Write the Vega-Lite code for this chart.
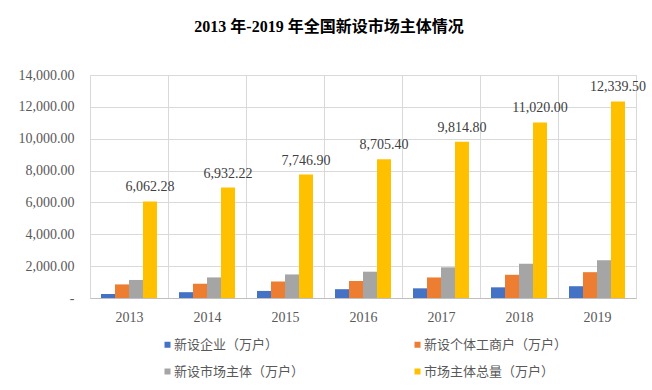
{
  "$schema": "https://vega.github.io/schema/vega-lite/v6.json",
  "width": 546,
  "height": 223,
  "autosize": {"type": "none"},
  "padding": {"left": 90, "top": 75, "right": 16, "bottom": 92},
  "background": "white",
  "title": {
    "text": "2013 年-2019 年全国新设市场主体情况",
    "font": "Liberation Serif, Noto Sans CJK SC",
    "fontSize": 16,
    "fontWeight": "bold",
    "color": "#000000",
    "anchor": "middle",
    "dx": -34,
    "offset": 33
  },
  "data": {
    "values": [
      {"year": "2013", "series": "新设企业（万户）", "value": 250.3},
      {"year": "2013", "series": "新设个体工商户（万户）", "value": 853.0},
      {"year": "2013", "series": "新设市场主体（万户）", "value": 1132.5},
      {"year": "2013", "series": "市场主体总量（万户）", "value": 6062.28},
      {"year": "2014", "series": "新设企业（万户）", "value": 365.1},
      {"year": "2014", "series": "新设个体工商户（万户）", "value": 896.5},
      {"year": "2014", "series": "新设市场主体（万户）", "value": 1292.5},
      {"year": "2014", "series": "市场主体总量（万户）", "value": 6932.22},
      {"year": "2015", "series": "新设企业（万户）", "value": 443.9},
      {"year": "2015", "series": "新设个体工商户（万户）", "value": 1035.9},
      {"year": "2015", "series": "新设市场主体（万户）", "value": 1479.8},
      {"year": "2015", "series": "市场主体总量（万户）", "value": 7746.9},
      {"year": "2016", "series": "新设企业（万户）", "value": 552.8},
      {"year": "2016", "series": "新设个体工商户（万户）", "value": 1068.9},
      {"year": "2016", "series": "新设市场主体（万户）", "value": 1651.3},
      {"year": "2016", "series": "市场主体总量（万户）", "value": 8705.4},
      {"year": "2017", "series": "新设企业（万户）", "value": 607.4},
      {"year": "2017", "series": "新设个体工商户（万户）", "value": 1289.8},
      {"year": "2017", "series": "新设市场主体（万户）", "value": 1924.9},
      {"year": "2017", "series": "市场主体总量（万户）", "value": 9814.8},
      {"year": "2018", "series": "新设企业（万户）", "value": 670.0},
      {"year": "2018", "series": "新设个体工商户（万户）", "value": 1456.4},
      {"year": "2018", "series": "新设市场主体（万户）", "value": 2149.6},
      {"year": "2018", "series": "市场主体总量（万户）", "value": 11020.0},
      {"year": "2019", "series": "新设企业（万户）", "value": 739.1},
      {"year": "2019", "series": "新设个体工商户（万户）", "value": 1621.8},
      {"year": "2019", "series": "新设市场主体（万户）", "value": 2377.4},
      {"year": "2019", "series": "市场主体总量（万户）", "value": 12339.5}
    ]
  },
  "encoding": {
    "x": {
      "field": "year",
      "type": "nominal",
      "scale": {"paddingInner": 0, "paddingOuter": 0},
      "axis": {
        "title": null,
        "labelAngle": 0,
        "tickBand": "extent",
        "ticks": false,
        "grid": true,
        "gridColor": "#d9d9d9",
        "domainColor": "#bfbfbf",
        "labelFont": "Liberation Serif",
        "labelFontSize": 14,
        "labelColor": "#595959",
        "labelPadding": 12
      }
    },
    "xOffset": {
      "field": "series",
      "type": "nominal",
      "sort": ["新设企业（万户）", "新设个体工商户（万户）", "新设市场主体（万户）", "市场主体总量（万户）"],
      "scale": {"paddingInner": 0, "paddingOuter": 0.786}
    },
    "y": {
      "field": "value",
      "type": "quantitative",
      "scale": {"domain": [0, 14000], "nice": false},
      "axis": {
        "title": null,
        "values": [0, 2000, 4000, 6000, 8000, 10000, 12000, 14000],
        "labelExpr": "datum.value === 0 ? '-\u00a0\u00a0\u00a0' : format(datum.value, ',.2f')",
        "ticks": false,
        "domain": false,
        "gridColor": "#d9d9d9",
        "labelFont": "Liberation Serif",
        "labelFontSize": 14,
        "labelColor": "#595959",
        "labelPadding": 16
      }
    }
  },
  "layer": [
    {
      "mark": {"type": "bar"},
      "encoding": {
        "color": {
          "field": "series",
          "type": "nominal",
          "sort": ["新设企业（万户）", "新设个体工商户（万户）", "新设市场主体（万户）", "市场主体总量（万户）"],
          "scale": {
            "domain": ["新设企业（万户）", "新设个体工商户（万户）", "新设市场主体（万户）", "市场主体总量（万户）"],
            "range": ["#4472C4", "#ED7D31", "#A5A5A5", "#FFC000"]
          },
          "legend": {
            "title": null,
            "orient": "none",
            "legendX": 71,
            "legendY": 263,
            "direction": "horizontal",
            "columns": 2,
            "columnPadding": 106,
            "rowPadding": 13,
            "symbolType": "square",
            "symbolSize": 36,
            "symbolStrokeWidth": 0,
            "labelOffset": 0,
            "labelFont": "Noto Sans CJK SC",
            "labelFontSize": 13,
            "labelColor": "#595959",
            "labelLimit": 300
          }
        }
      }
    },
    {
      "transform": [{"filter": "datum.series === '市场主体总量（万户）'"}],
      "mark": {
        "type": "text",
        "baseline": "middle",
        "align": "center",
        "dy": -14,
        "font": "Liberation Serif",
        "fontSize": 14,
        "color": "#404040"
      },
      "encoding": {
        "text": {"field": "value", "type": "quantitative", "format": ",.2f"}
      }
    }
  ],
  "config": {
    "view": {"stroke": "#d9d9d9"}
  }
}
